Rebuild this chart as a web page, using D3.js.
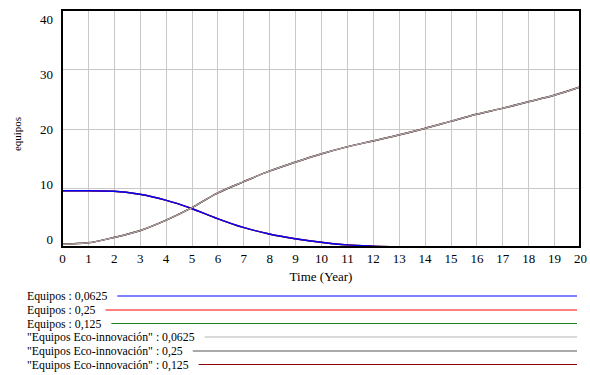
<!DOCTYPE html>
<html>
<head>
<meta charset="utf-8">
<title>Equipos</title>
<script src="https://cdn.jsdelivr.net/npm/d3@7/dist/d3.min.js"></script>
<style>
    body { margin: 0; background: #fff; }
    text { font-family: "Liberation Serif", "Times New Roman", serif; fill: #000; }
    .grid line { stroke: #c8c8c8; stroke-width: 1; shape-rendering: crispEdges; }
    .grid path { display: none; }
    .tick-lbl { font-size: 13px; }
    .legend text { font-size: 11.8px; }
</style>
</head>
<body>
<script>
// time axis (years)
var years = d3.range(0, 21);
var xTicks = d3.range(0, 21);
var yTicks = [0, 10, 20, 30, 40];

// Equipos (three runs overlap)
var equipos0625 = [9.5, 9.5, 9.4, 8.9, 7.9, 6.5, 4.8, 3.3, 2.2, 1.4, 0.8, 0.35, 0.15, 0.05, 0, 0, 0, 0, 0, 0, 0];
var equipos25   = [9.5, 9.5, 9.4, 8.9, 7.9, 6.5, 4.8, 3.3, 2.2, 1.4, 0.8, 0.35, 0.15, 0.05, 0, 0, 0, 0, 0, 0, 0];
var equipos125  = [9.5, 9.5, 9.4, 8.9, 7.9, 6.5, 4.8, 3.3, 2.2, 1.4, 0.8, 0.35, 0.15, 0.05, 0, 0, 0, 0, 0, 0, 0];
// "Equipos Eco-innovación" (three runs overlap)
var eco0625 = [0.45, 0.7, 1.6, 2.75, 4.5, 6.6, 9.1, 11.0, 12.8, 14.3, 15.7, 16.9, 17.9, 18.9, 20.0, 21.2, 22.4, 23.4, 24.5, 25.6, 27.0];
var eco25   = [0.45, 0.7, 1.6, 2.75, 4.5, 6.6, 9.1, 11.0, 12.8, 14.3, 15.7, 16.9, 17.9, 18.9, 20.0, 21.2, 22.4, 23.4, 24.5, 25.6, 27.0];
var eco125  = [0.45, 0.7, 1.6, 2.75, 4.5, 6.6, 9.1, 11.0, 12.8, 14.3, 15.7, 16.9, 17.9, 18.9, 20.0, 21.2, 22.4, 23.4, 24.5, 25.6, 27.0];

var seriesNames = ["Equipos : 0,0625", "Equipos : 0,25", "Equipos : 0,125",
    "\"Equipos Eco-innovación\" : 0,0625", "\"Equipos Eco-innovación\" : 0,25", "\"Equipos Eco-innovación\" : 0,125"];
var seriesData = [equipos0625, equipos25, equipos125, eco0625, eco25, eco125];
var seriesColors = ["#0000ff", "#ff0000", "#1a7f1a", "#b4b4b4", "#555555", "#8b0000"];
var seriesWidths = [1.4, 1.4, 1.4, 1, 1.5, 1.5];
// draw order: last one ends on top
var drawOrder = [2, 1, 0, 5, 4, 3];

var w = 590, h = 375;
var padL = 62, padR = 580, padT = 10, padB = 247;

var svg = d3.select("body").append("svg")
    .attr("width", w)
    .attr("height", h);

var x = d3.scaleLinear().domain([0, 20]).range([padL, padR]);
var y = d3.scaleLinear().domain([0, 40]).range([padB, padT]);
// value labels sit a little off the gridlines in the original
var yLbl = d3.scaleLinear().domain([0, 40]).range([239, 19]);

// grid
svg.append("g")
    .attr("class", "grid")
    .attr("transform", "translate(0," + padB + ")")
    .call(d3.axisBottom(x).tickValues(xTicks.slice(1, -1)).tickSize(-(padB - padT)).tickFormat(""));

svg.append("g")
    .attr("class", "grid")
    .attr("transform", "translate(" + padL + ",0)")
    .call(d3.axisLeft(y).tickValues(yTicks.slice(1, -1)).tickSize(-(padR - padL)).tickFormat(""));

// lines
var line = d3.line()
    .x(function(d, i) { return x(years[i]); })
    .y(function(d) { return y(d); })
    .curve(d3.curveMonotoneX);

var plot = svg.append("g");
drawOrder.forEach(function(k) {
    plot.append("path")
        .attr("d", line(seriesData[k]))
        .attr("fill", "none")
        .attr("stroke", seriesColors[k])
        .attr("stroke-width", seriesWidths[k]);
});

// frame
svg.append("rect")
    .attr("x", padL)
    .attr("y", padT)
    .attr("width", padR - padL)
    .attr("height", padB - padT)
    .attr("fill", "none")
    .attr("stroke", "#000")
    .attr("stroke-width", 2);

// tick labels
var xAxis = svg.append("g")
    .attr("transform", "translate(0," + padB + ")")
    .call(d3.axisBottom(x).tickValues(xTicks).tickSize(0).tickPadding(7).tickFormat(d3.format("d")));
xAxis.select(".domain").remove();
xAxis.attr("font-family", null).attr("font-size", null);
xAxis.selectAll("text")
    .attr("class", "tick-lbl")
    .style("fill", "#000");

var yAxis = svg.append("g")
    .attr("transform", "translate(53,0)")
    .call(d3.axisLeft(yLbl).tickValues(yTicks).tickSize(0).tickPadding(0).tickFormat(d3.format("d")));
yAxis.select(".domain").remove();
yAxis.attr("font-family", null).attr("font-size", null);
yAxis.selectAll("text")
    .attr("class", "tick-lbl")
    .style("fill", "#000");

// axis titles
svg.append("text")
    .attr("x", (padL + padR) / 2)
    .attr("y", 281)
    .attr("text-anchor", "middle")
    .style("font-size", "13px")
    .text("Time (Year)");

svg.append("text")
    .attr("transform", "translate(21,134) rotate(-90)")
    .attr("text-anchor", "middle")
    .style("font-size", "11px")
    .text("equipos");

// legend
var legY = [296, 310, 323.5, 337, 351, 364.5];
var legend = svg.append("g").attr("class", "legend");
seriesNames.forEach(function(name, i) {
    var t = legend.append("text")
        .attr("x", 27)
        .attr("y", legY[i] + 4)
        .text(name);
    var tw = t.node().getComputedTextLength();
    legend.append("line")
        .attr("x1", 27 + tw + 10)
        .attr("x2", 577)
        .attr("y1", legY[i])
        .attr("y2", legY[i])
        .attr("stroke", seriesColors[i])
        .attr("stroke-width", 1);
});
</script>
</body>
</html>
